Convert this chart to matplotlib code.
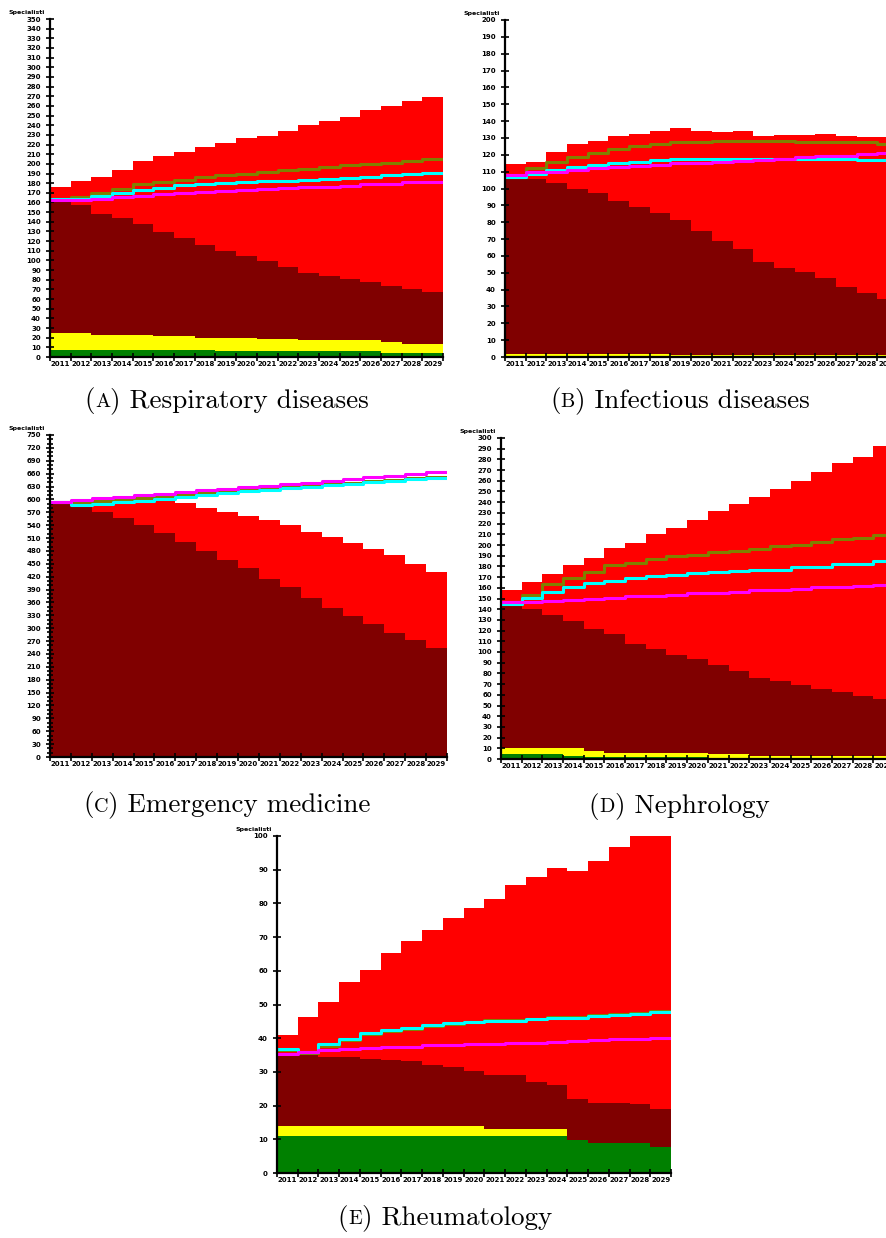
"""
Specialist supply/demand projections, 2011-2029, five specialties
"""

import numpy as np
import matplotlib
matplotlib.use("Agg")
import matplotlib.pyplot as plt
from matplotlib.offsetbox import TextArea, HPacker, AnnotationBbox
from matplotlib.ticker import MultipleLocator

years = [str(y) for y in range(2011, 2030)]

# (A) Respiratory diseases
resp_total = [176, 182, 186, 194, 203, 208, 212, 217, 222, 227, 229, 234, 240, 244, 249, 256, 260, 265, 269]
resp_supply = [163, 157, 148, 144, 138, 129, 123, 116, 110, 105, 99, 93, 87, 84, 81, 78, 74, 70, 67]
resp_yellow = [25, 25, 23, 23, 23, 22, 22, 20, 20, 20, 19, 19, 18, 18, 18, 18, 16, 13, 13]
resp_green = [7, 7, 7, 7, 7, 7, 7, 7, 6, 6, 6, 6, 6, 6, 6, 6, 4.5, 4.5, 4.5]
resp_olive = [164, 165.5, 169.7, 174, 179.3, 181, 183.4, 186, 188, 189.7, 192, 193.8, 195, 196.6, 198.3, 199.7, 201, 203.4, 205.2]
resp_cyan = [164, 164.1, 166.2, 170.3, 173.1, 174.8, 177.6, 179.3, 180, 181, 182, 182, 183.4, 184.5, 185.2, 186.6, 188, 189.7, 191]
resp_magenta = [163, 162.4, 163.8, 165.5, 166.9, 169, 169.7, 170.7, 171.7, 173.4, 173.8, 174.8, 176.2, 176.2, 177.2, 179, 179.3, 180.7, 181]

# (B) Infectious diseases
inf_total = [114.3, 115.6, 121.6, 126.5, 128.3, 130.9, 132.5, 134.3, 135.8, 134.3, 133.3, 134, 130.9, 131.5, 131.5, 132.5, 130.9, 130.3, 130.3]
inf_supply = [105.5, 105.5, 103.2, 99.8, 97.4, 92.3, 88.9, 85.7, 81.6, 74.9, 68.9, 64, 56.2, 53.1, 50.5, 47.1, 41.4, 38, 34.7]
inf_yellow = [2, 2, 2, 2, 2, 2, 2, 2, 1, 1, 1, 1, 1, 1, 1, 1, 1, 1, 1]
inf_green = [0] * 19
inf_olive = [107, 111.9, 115.8, 118.4, 120.8, 123.4, 125.1, 126.7, 127.3, 127.3, 128.3, 128.3, 128.3, 128.3, 127.5, 127.5, 127.5, 127.5, 126.7]
inf_cyan = [106.9, 108.7, 110.9, 112.5, 113.7, 115.2, 116, 116.8, 117.6, 117.6, 117.6, 117.6, 117.6, 117.6, 117.6, 117.6, 117.6, 116.8, 116.8]
inf_magenta = [107.9, 109.7, 109.7, 111.1, 112, 112.9, 113.5, 113.9, 114.9, 115.4, 116, 116.4, 117, 117.4, 118.6, 119.4, 119.4, 120.2, 121]

# (C) Emergency medicine
em_total = [594.6, 592, 596, 598.4, 600, 600, 590.7, 580.6, 571.2, 562, 551.8, 539.4, 523.8, 511.4, 499, 483.4, 470.2, 449.2, 430.6]
em_supply = [594.6, 581.3, 571.2, 555.7, 539.4, 520.7, 501.3, 479.5, 458.5, 439.1, 413.5, 396.4, 370.7, 348.2, 329.5, 310.9, 289.1, 272.8, 254.1]
em_yellow = [3] * 18 + [0]
em_green = [0] * 19
em_olive = [594.6, 592, 596, 597.7, 602.3, 605.4, 609.3, 614, 617.9, 621, 624, 628, 631.8, 635, 638.8, 642, 645, 649, 652]
em_cyan = [594.6, 586.8, 589, 593, 596.9, 601.5, 606.2, 610, 614.7, 618.6, 621.7, 625.6, 629.5, 632.6, 636.5, 640.4, 643.5, 646.6, 649]
em_magenta = [594.6, 598.4, 603, 604.6, 609.3, 613.2, 617, 621.7, 624.8, 628.7, 631, 635, 638.8, 642, 647.4, 651.3, 654.4, 658.3, 663]

# (D) Nephrology
nep_total = [158.1, 165, 172.7, 180.9, 187.4, 196.8, 201.7, 210.2, 215.5, 223.6, 231.4, 237.9, 244.8, 252.3, 259.4, 268.5, 276.6, 281.9, 292.2]
nep_supply = [146.2, 140, 134.7, 129.1, 121.3, 117.2, 107.9, 102.6, 97.3, 93.3, 87.6, 82.6, 76.1, 73.3, 68.9, 65.2, 62.7, 58.9, 55.8]
nep_yellow = [10, 10, 10, 10, 7.5, 5.3, 5.3, 5.3, 5.3, 5.3, 4.4, 4.4, 3.1, 3.1, 3.1, 3.1, 3.1, 3.1, 3.1]
nep_green = [4.4, 4.4, 4.4, 2.8, 1.6, 1.6, 1.6, 1.6, 1.6, 1.6, 0, 0, 0, 0, 0, 0, 0, 0, 0]
nep_olive = [145, 153.4, 163.4, 169.3, 174.6, 180.9, 183, 186.8, 189.3, 190.8, 193, 194.6, 196.1, 198.6, 200.2, 202.7, 205.5, 207, 209.5]
nep_cyan = [144.7, 150.3, 155.9, 160.3, 164.3, 166.8, 169, 170.6, 172.1, 173.7, 174.6, 175.9, 176.8, 177.1, 179.9, 179.9, 182.4, 182.4, 185.2]
nep_magenta = [146.6, 146.9, 147.8, 148.7, 149.7, 150.6, 151.9, 152.8, 153.7, 155, 155.6, 156.5, 157.5, 158.4, 159.3, 160.3, 161.2, 161.8, 163]

# (E) Rheumatology
rh_total = [41, 46.3, 50.8, 56.6, 60.2, 65.2, 68.8, 72.1, 75.7, 78.7, 81.4, 85.6, 87.7, 90.5, 89.7, 92.6, 96.6, 100, 100]
rh_supply = [35.2, 35.2, 34.5, 34.4, 33.9, 33.5, 33.1, 32, 31.5, 30.3, 29.1, 29, 27, 26.2, 22, 20.9, 20.7, 20.4, 18.9]
rh_yellow = [13.8] * 10 + [13] * 4 + [9.9, 9, 9, 9, 7.8]
rh_green = [11.1] * 14 + [9.9, 9, 9, 9, 7.8]
rh_olive = [36.5, 35.6, 37.8, 39.5, 41.2, 42, 42.8, 43.7, 44.3, 44.9, 45.3, 45.4, 45.8, 46.3, 46.4, 46.8, 47.2, 47.6, 48.1]
rh_cyan = [36.8, 36, 38.2, 39.8, 41.5, 42.3, 43.1, 43.9, 44.4, 44.9, 45.2, 45.2, 45.6, 46.1, 46.1, 46.5, 46.9, 47.3, 47.8]
rh_magenta = [35.4, 36, 36.5, 36.7, 37.1, 37.5, 37.5, 38, 38, 38.2, 38.2, 38.6, 38.6, 39, 39.3, 39.5, 39.8, 39.8, 40.2]

W, H = 887, 1238


def px_axes(fig, left, top, width, height):
    return fig.add_axes([left / W, 1 - (top + height) / H, width / W, height / H])


def step_vals(v):
    v = list(v)
    return np.array(v + [v[-1]])


def panel(ax, total, supply, yellow, green, olive, cyan, magenta, ymax, major, minor=None):
    x = np.arange(len(years) + 1)
    for vals, col in [(total, "#ff0000"), (supply, "#800000"),
                      (yellow, "#ffff00"), (green, "#008000")]:
        ax.fill_between(x, 0, step_vals(vals), step="post", color=col, lw=0)
    for vals, col in [(olive, "#808000"), (cyan, "#00ffff"), (magenta, "#ff00ff")]:
        ax.step(x, step_vals(vals), where="post", color=col, lw=2.2)
    ax.set_xlim(0, len(years))
    ax.set_ylim(0, ymax)
    ax.set_xticks(x)
    ax.set_xticklabels([])
    ax.set_xticks(x[:-1] + 0.5, minor=True)
    ax.set_xticklabels(years, minor=True, fontsize=5, fontweight="bold")
    ax.tick_params(axis="x", which="major", direction="inout", length=6, width=1.2)
    ax.tick_params(axis="x", which="minor", length=0, pad=3)
    ax.yaxis.set_major_locator(MultipleLocator(major))
    if minor:
        ax.yaxis.set_minor_locator(MultipleLocator(minor))
        ax.tick_params(axis="y", which="minor", direction="inout", length=5, width=1.2)
    ax.tick_params(axis="y", which="major", direction="inout", length=6, width=1.2,
                   labelsize=5)
    for lab in ax.get_yticklabels():
        lab.set_fontweight("bold")
    for s in ["top", "right"]:
        ax.spines[s].set_visible(False)
    for s in ["left", "bottom"]:
        ax.spines[s].set_linewidth(1.6)
    ax.annotate("Specialisti", xy=(0, 1), xycoords="axes fraction",
                xytext=(-3.5, 3), textcoords="offset points",
                fontsize=4.5, fontweight="bold", ha="right", va="bottom")


def caption(fig, letter, title, cx, cy):
    parts = [TextArea("(", textprops=dict(family="cmr10", size=19.5)),
             TextArea(letter, textprops=dict(family="cmr10", size=14.5)),
             TextArea(") " + title, textprops=dict(family="cmr10", size=19.5))]
    box = HPacker(children=parts, align="baseline", pad=0, sep=0)
    ab = AnnotationBbox(box, (cx / W, 1 - cy / H), xycoords="figure fraction",
                        frameon=False, box_alignment=(0.5, 0.5), pad=0)
    fig.add_artist(ab)


fig = plt.figure(figsize=(W / 100, H / 100), dpi=100)

ax = px_axes(fig, 50, 19, 393, 338)
panel(ax, resp_total, resp_supply, resp_yellow, resp_green,
      resp_olive, resp_cyan, resp_magenta, 350, 10)

ax = px_axes(fig, 505, 20, 393, 337)
panel(ax, inf_total, inf_supply, inf_yellow, inf_green,
      inf_olive, inf_cyan, inf_magenta, 200, 10)

ax = px_axes(fig, 50, 435, 397, 322)
panel(ax, em_total, em_supply, em_yellow, em_green,
      em_olive, em_cyan, em_magenta, 750, 30, minor=10)

ax = px_axes(fig, 501, 438, 393, 321)
panel(ax, nep_total, nep_supply, nep_yellow, nep_green,
      nep_olive, nep_cyan, nep_magenta, 300, 10)

ax = px_axes(fig, 277, 836, 394, 337)
panel(ax, rh_total, rh_supply, rh_yellow, rh_green,
      rh_olive, rh_cyan, rh_magenta, 100, 10)

caption(fig, "A", "Respiratory diseases", 227, 401)
caption(fig, "B", "Infectious diseases", 680, 401)
caption(fig, "C", "Emergency medicine", 227, 805)
caption(fig, "D", "Nephrology", 679, 806)
caption(fig, "E", "Rheumatology", 445, 1218)

fig.savefig("out.png", dpi=100)
